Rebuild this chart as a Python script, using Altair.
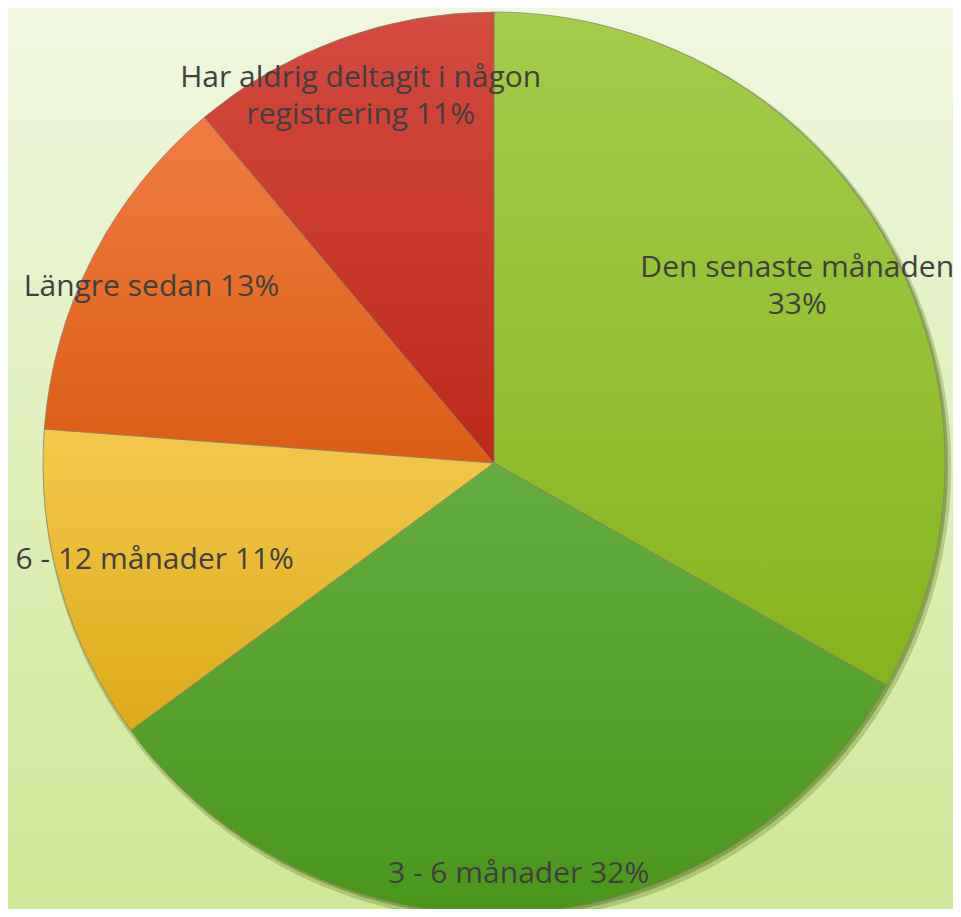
import altair as alt
import pandas as pd

# ---- data ----
categories = ["Den senaste månaden", "3 - 6 månader", "6 - 12 månader",
              "Längre sedan", "Har aldrig deltagit i någon registrering"]
values = [33.2, 31.7, 11.3, 12.7, 11.1]          # share of the circle as drawn
label_pct = ["33%", "32%", "11%", "13%", "11%"]  # percentages as printed
label_text = [["Den senaste månaden", "33%"],
              ["3 - 6 månader 32%"],
              ["6 - 12 månader 11%"],
              ["Längre sedan 13%"],
              ["Har aldrig deltagit i någon", "registrering 11%"]]

df = pd.DataFrame({
    "idx": list(range(len(categories))),
    "category": categories,
    "value": values,
    "pct": label_pct,
    "label": label_text,
})

W, H = 945, 901
CX, CY, R = 486, 455, 451

grad_stops = [
    ("#a3cd4b", "#86b41c"),
    ("#64ad42", "#4a961c"),
    ("#f3c94c", "#dcab18"),
    ("#f17d42", "#dc5c14"),
    ("#d44b3f", "#bf271c"),
]
label_radius = [351, 412, 353, 385, 390]
label_dy = [-18, 0, 0, 0, -18]

def vgrad(c1, c2):
    return alt.LinearGradient(
        gradient="linear", x1=0, y1=0, x2=0, y2=1,
        stops=[alt.GradientStop(color=c1, offset=0),
               alt.GradientStop(color=c2, offset=1)])

background = alt.Chart(df).mark_rect(
    color=vgrad("#f0f8e0", "#cfe796")
).encode(x=alt.value(0), x2=alt.value(W), y=alt.value(0), y2=alt.value(H))

shadow1 = alt.Chart(df).mark_arc(
    radius=R + 3, theta=0, theta2=6.2832, color="#6a8a30", opacity=0.08
).encode(x=alt.value(CX + 3), y=alt.value(CY + 4))
shadow2 = alt.Chart(df).mark_arc(
    radius=R + 1, theta=0, theta2=6.2832, color="#5a7a20", opacity=0.12
).encode(x=alt.value(CX + 2), y=alt.value(CY + 2))

base = alt.Chart(df).transform_window(
    cum="sum(value)", sort=[alt.SortField("idx")], frame=[None, 0]
).transform_calculate(
    start="datum.cum - datum.value",
    mid="datum.cum - datum.value / 2",
)

theta_scale = alt.Scale(domain=[0, 100])

layers = [background, shadow1, shadow2]
for i in range(len(categories)):
    c1, c2 = grad_stops[i]
    layers.append(
        base.transform_filter(alt.datum.idx == i).mark_arc(
            radius=R, color=vgrad(c1, c2),
            stroke="#8c7f6a", strokeWidth=1, strokeOpacity=0.7
        ).encode(
            theta=alt.Theta("start:Q", scale=theta_scale),
            theta2="cum:Q",
            x=alt.value(CX), y=alt.value(CY),
        )
    )
for i in range(len(categories)):
    layers.append(
        base.transform_filter(alt.datum.idx == i).mark_text(
            radius=label_radius[i], dy=label_dy[i],
            font="Open Sans", fontSize=30, color="#404040",
            align="center", baseline="middle", lineHeight=37
        ).encode(
            theta=alt.Theta("mid:Q", scale=theta_scale),
            text="label",
            x=alt.value(CX), y=alt.value(CY),
        )
    )

chart = alt.layer(*layers).properties(
    width=W, height=H, padding=0, autosize=alt.AutoSizeParams(type="none")
).configure_view(stroke=None).configure(background="#e0f0bb")

chart.save("out.html", embed_options={"renderer": "svg", "actions": False})
